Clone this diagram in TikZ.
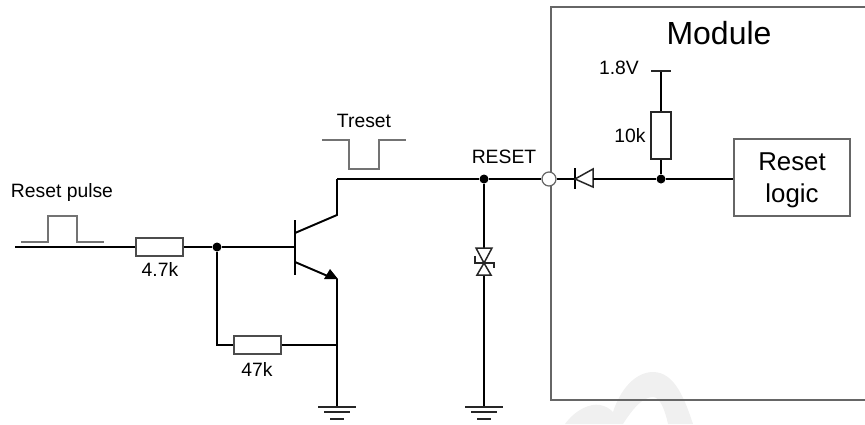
\documentclass[tikz,border=0pt]{standalone}
\usepackage{fontspec}
\setmainfont{Liberation Sans}
\begin{document}
\begin{tikzpicture}[x=0.02cm,y=0.02cm]
	\tikzset{
		wire/.style={black,line width=1.1pt},
		thin wire/.style={black!85,line width=0.85pt},
		pulse/.style={black!55,line width=0.7pt},
		frame/.style={black!60,line width=0.9pt},
		resistor/.style={draw=black!70,fill=white,line width=0.8pt,inner sep=0pt,minimum width=0.94cm,minimum height=0.36cm},
		dot/.style={circle,fill=black,inner sep=0pt,minimum size=0.18cm},
		txt/.style={inner sep=0pt,font=\fontsize{11}{13}\selectfont}
	}
	\useasboundingbox (0,0) rectangle (865,-424);
	% watermark
	\fill [black!6] (565,-424) .. controls (575,-410) and (590,-403) .. (600,-405) .. controls (606,-406) and (610,-409) .. (613,-412) .. controls (620,-390) and (635,-372) .. (653,-372) .. controls (675,-372) and (685,-400) .. (693,-424) -- (668,-424) .. controls (665,-410) and (660,-397) .. (653,-397) .. controls (642,-397) and (632,-410) .. (623,-424) -- cycle;
	% module frame
	\coordinate (modtr) at (865,-7);
	\coordinate (modtl) at (551,-7);
	\coordinate (modbl) at (551,-400);
	\coordinate (modbr) at (865,-400);
	\draw [frame] (modtr) -- (modtl) -- (modbl) -- (modbr);
	\node [txt,font=\fontsize{18.2}{20}\selectfont] (module) at (719,-33) {Module};
	\node [draw=black!60,line width=0.7pt,minimum width=2.32cm,minimum height=1.54cm,inner sep=0pt,align=center,text depth=0pt,font=\fontsize{14.7}{17.9}\selectfont] (logic) at (792,-177.5) {Reset\\logic};
	% input side
	\coordinate (in) at (15,-247);
	\node [resistor] (r47) at (159.5,-247) {};
	\node [txt,anchor=north] (r47val) at (160,-262) {4.7k};
	\node [dot] (jbase) at (217,-247) {};
	\coordinate (base) at (295,-247);
	\draw [wire] (in) -- (r47) -- (jbase) -- (base);
	\node [txt] (pulselab) at (62,-192) {Reset pulse};
	\draw [pulse] (21,-242) -- (48,-242) -- (48,-216) -- (77,-216) -- (77,-242) -- (104,-242);
	% transistor
	\coordinate (bartop) at (295,-220);
	\coordinate (barbot) at (295,-275);
	\coordinate (coll) at (295,-233);
	\coordinate (collb) at (337,-215);
	\coordinate (colt) at (337,-179);
	\coordinate (emit) at (295,-262);
	\coordinate (emita) at (330,-277);
	\coordinate (emitb) at (337,-279);
	\coordinate (gnda) at (337,-407);
	\draw [wire] (bartop) -- (barbot);
	\draw [wire] (coll) -- (collb) -- (colt);
	\draw [wire] (emit) -- (emita);
	\fill [black] (330,-269) -- (338,-279) -- (324,-279) -- cycle;
	\draw [wire] (emitb) -- (gnda);
	% feedback resistor
	\node [resistor] (r470) at (257.5,-345) {};
	\node [txt,anchor=north] (r470val) at (257,-362) {47k};
	\coordinate (fbl) at (217,-345);
	\coordinate (fbr) at (337,-345);
	\draw [wire] (jbase) -- (fbl) -- (r470) -- (fbr);
	% reset line
	\node [dot] (jreset) at (484,-179) {};
	\node [circle,draw=black!60,fill=white,line width=0.7pt,inner sep=0pt,minimum size=0.28cm] (port) at (549,-179) {};
	\draw [wire] (colt) -- (jreset) -- (port);
	\node [txt] (resetlab) at (504,-157) {RESET};
	\node [txt] (tresetlab) at (364,-121) {Treset};
	\draw [pulse] (322,-140) -- (349,-140) -- (349,-169) -- (379,-169) -- (379,-140) -- (406,-140);
	% TVS diode
	\coordinate (tvstop) at (484,-248);
	\coordinate (tvsbot) at (484,-275);
	\coordinate (gndb) at (484,-407);
	\draw [wire] (jreset) -- (tvstop);
	\draw [wire] (tvsbot) -- (gndb);
	\draw [thin wire] (476,-248) -- (492,-248) -- (484,-263) -- cycle;
	\draw [thin wire] (477,-275) -- (491,-275) -- (484,-263) -- cycle;
	\draw [thin wire] (475,-256) -- (475,-263) -- (494,-263) -- (494,-268);
	% ground symbols
	\foreach \x in {337,484}
	{
		\draw [thin wire] (\x-19,-407) -- (\x+19,-407);
		\draw [thin wire] (\x-13,-412) -- (\x+13,-412);
		\draw [thin wire] (\x-7,-419) -- (\x+7,-419);
	}
	% inside the module
	\node [dot] (jpull) at (661,-179) {};
	\coordinate (dioa) at (575,-179);
	\coordinate (diob) at (593,-179);
	\draw [wire] (port) -- (dioa);
	\draw [wire] (575,-168) -- (575,-189);
	\draw [thin wire] (575,-179) -- (593,-169) -- (593,-187) -- cycle;
	\draw [wire] (diob) -- (jpull);
	\draw [wire] (jpull) -- (jpull -| logic.west);
	\node [resistor,minimum width=0.4cm,minimum height=0.94cm,draw=black!85] (r10) at (661,-135.5) {};
	\node [txt,anchor=east] (r10val) at (646,-136) {10k};
	\coordinate (vcc) at (661,-71);
	\coordinate (vccl) at (651,-71);
	\coordinate (vccr) at (671,-71);
	\draw [wire] (jpull) -- (r10);
	\draw [wire] (r10) -- (vcc);
	\draw [thin wire] (vccl) -- (vccr);
	\node [txt] (vcclab) at (619,-68) {1.8V};
\end{tikzpicture}
\end{document}
